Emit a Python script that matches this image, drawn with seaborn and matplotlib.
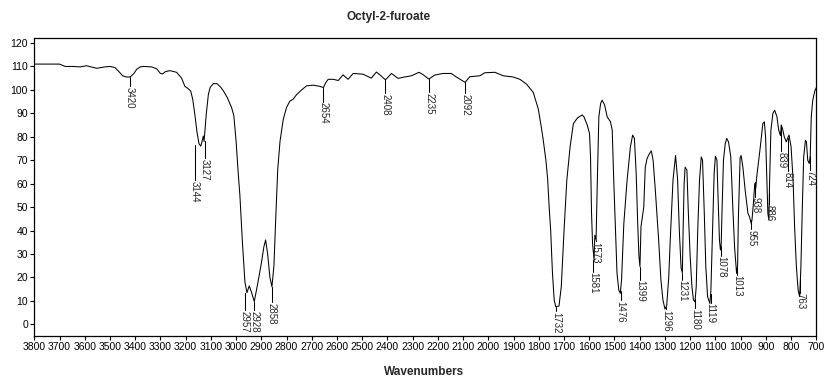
import numpy as np
import pandas as pd
import matplotlib
matplotlib.use("Agg")
from matplotlib import pyplot as plt
import seaborn as sns

# spectrum (wavenumber, %T)
wavenumber = [
    3800, 3700, 3678, 3650, 3619, 3593, 3553, 3520, 3500, 3480, 3462, 3450, 3435, 3420, 3405, 3394,
    3380, 3368, 3335, 3315, 3300, 3292, 3280, 3262, 3236, 3216, 3203, 3190, 3180, 3172, 3163, 3155,
    3147, 3140, 3135, 3130, 3127, 3124, 3118, 3110, 3103, 3090, 3075, 3060, 3050, 3035, 3018, 3009,
    3000, 2992, 2985, 2975, 2965, 2957, 2948, 2940, 2928, 2915, 2900, 2890, 2883, 2875, 2866, 2858,
    2850, 2843, 2835, 2826, 2813, 2800, 2787, 2774, 2760, 2741, 2721, 2694, 2668, 2654, 2645, 2635,
    2615, 2595, 2576, 2556, 2536, 2497, 2464, 2444, 2431, 2408, 2384, 2358, 2332, 2305, 2275, 2259,
    2236, 2213, 2180, 2147, 2127, 2092, 2074, 2034, 2014, 1974, 1941, 1902, 1875, 1849, 1822, 1802,
    1790, 1783, 1772, 1765, 1759, 1753, 1746, 1739, 1733, 1720, 1711, 1700, 1689, 1676, 1663, 1647,
    1628, 1621, 1608, 1599, 1595, 1591, 1587, 1581, 1578, 1573, 1568, 1562, 1555, 1549, 1539, 1529,
    1516, 1509, 1503, 1496, 1490, 1483, 1477, 1472, 1463, 1450, 1437, 1428, 1421, 1414, 1408, 1403,
    1399, 1395, 1384, 1378, 1371, 1361, 1354, 1347, 1338, 1325, 1316, 1308, 1300, 1293, 1285, 1279,
    1268, 1258, 1250, 1243, 1236, 1231, 1228, 1224, 1220, 1213, 1207, 1200, 1193, 1187, 1181, 1176,
    1170, 1163, 1156, 1151, 1144, 1138, 1131, 1122, 1118, 1111, 1105, 1100, 1094, 1088, 1084, 1080,
    1077, 1074, 1068, 1061, 1055, 1048, 1039, 1031, 1024, 1016, 1012, 1009, 1002, 998, 991, 982,
    971, 965, 958, 955, 949, 944, 940, 936, 922, 912, 906, 901, 896, 892, 888, 885,
    880, 872, 865, 856, 849, 842, 839, 834, 827, 819, 814, 808, 800, 792, 786, 779,
    772, 766, 761, 756, 750, 743, 739, 734, 728, 724, 720, 714, 706, 700,
]
transmittance = [
    111, 111, 110, 110, 109.8, 110.3, 109.2, 109.8, 110, 109.5, 107.5, 106, 105.5, 105.5, 107, 108.8,
    109.8, 110, 109.8, 109, 107, 106.8, 107.8, 108.2, 107.5, 105, 101.5, 100.5, 99.5, 96, 89, 82,
    77, 76, 78, 80.3, 78, 82, 90, 98, 101, 102.7, 102.6, 101, 99.5, 96.7, 92.5, 89,
    78, 65, 55, 35, 18, 13.5, 16.4, 14, 9.7, 17, 26, 33, 36, 30, 20, 16,
    25, 45, 66, 78, 87.5, 92.5, 95.2, 96, 98, 99.9, 101.7, 102, 101.5, 101, 103, 104.5,
    104.5, 104, 106.4, 104.5, 107, 106.7, 105, 107.6, 106.5, 104.3, 107, 104.9, 105.5, 106, 107.5, 106.5,
    104.6, 106.3, 107, 107, 105.5, 103.2, 105.6, 106, 107.3, 107.5, 106, 105.5, 104.5, 102.5, 98.9, 91.8,
    84, 79, 70, 62, 50, 40, 22, 10.4, 7.5, 7.8, 16, 40, 61.5, 75.7, 85.6, 88,
    89.3, 88.5, 85, 81.4, 71.4, 47.3, 34.5, 27.4, 38, 36, 61.5, 88.5, 94.2, 95.6, 93.5, 88.5,
    86.4, 82.8, 61.5, 40, 21.7, 14.6, 13.2, 18.9, 43, 61.5, 75.7, 80.7, 79.3, 64.3, 43, 28.8,
    24.6, 41.6, 50, 67, 70.7, 72.9, 74, 70, 57, 36, 18.9, 10.4, 6.5, 8, 20, 36,
    61.5, 72, 62, 40, 24, 22, 40, 60, 67, 65.8, 47, 28.8, 16, 10.4, 9.5, 16,
    40.2, 61.5, 71.4, 70, 47.3, 24.6, 11.8, 8.9, 14, 40.2, 64.3, 71.7, 70, 50, 36, 31.7,
    34, 47.3, 70, 77, 79.3, 77.8, 71.4, 50, 33, 21.7, 25, 45, 71, 72, 67, 57.2,
    47.3, 45.9, 43, 44.5, 52, 60, 58, 63, 75.7, 85.6, 86.4, 80, 61.5, 47.3, 44.5, 61.5,
    82.8, 90, 91.3, 88.5, 82.8, 80.5, 85, 83.5, 80, 77.8, 79.3, 80.7, 75.7, 61.5, 41.6, 24.6,
    14.6, 11.8, 24.6, 47.3, 71.4, 78.5, 77.8, 70, 68.6, 72, 88.5, 95.6, 99.5, 101,
]

peak_labels = [3420, 3144, 3127, 2957, 2928, 2858, 2654, 2408, 2235, 2092, 1732, 1581, 1573,
               1476, 1399, 1296, 1231, 1180, 1119, 1078, 1013, 955, 938, 886, 839, 814, 763, 724]
# where each marker is drawn (some are nudged sideways to keep labels apart)
label_pos = [3420, 3163, 3123, 2965, 2928, 2858, 2654, 2408, 2235, 2092, 1732, 1585, 1575,
             1476, 1399, 1296, 1233, 1180, 1119, 1078, 1013, 958, 943, 886, 839, 814, 763, 724]
# how far below the curve each label starts (in %T)
label_gap = [3.8, 15, 7, 7.5, 3.7, 6.7, 6, 5.7, 5.7, 4.5, 2, 5, 0.5,
             4, 5.6, 1, 3, 4, 3.5, 4, 3, 4, 6, 4.5, 11, 14, 6, 6]

df = pd.DataFrame({"wn": wavenumber, "T": transmittance})

sns.set_style("white")
plt.rcParams["font.family"] = ["Liberation Sans Narrow", "Liberation Sans", "DejaVu Sans"]

fig = plt.figure(figsize=(8.39, 3.88), dpi=100)
ax = fig.add_axes([34.3 / 839, 52 / 388, 782 / 839, 297.7 / 388])

sns.lineplot(data=df, x="wn", y="T", ax=ax, color="black", linewidth=0.75, sort=False)

xs = np.array(wavenumber)[::-1]
ys = np.array(transmittance)[::-1]
for lab, pos, gap in zip(peak_labels, label_pos, label_gap):
    y0 = np.interp(lab, xs, ys)
    ax.plot([pos, pos], [y0, y0 - gap], color="black", linewidth=0.75)
    ax.text(pos, y0 - gap - 0.3, str(lab), rotation=270, ha="center", va="top", fontsize=7)

ax.set_xlim(3800, 700)
ax.set_ylim(-5, 122)
ax.set_xticks(np.arange(3800, 699, -100))
ax.set_yticks(np.arange(0, 121, 10))
ax.tick_params(axis="both", direction="out", length=3, width=0.8, labelsize=7.5, pad=1.5,
               bottom=True, left=True, colors="black")
for s in ax.spines.values():
    s.set_color("black")
    s.set_linewidth(0.9)
ax.set_xlabel("")
ax.set_ylabel("")

fig.text(389 / 839, 1 - 17 / 388, "Octyl-2-furoate", ha="center", va="center",
         fontsize=8.5, fontweight="bold", family=["Liberation Sans", "DejaVu Sans"])
fig.text(424 / 839, 1 - 372 / 388, "Wavenumbers", ha="center", va="center",
         fontsize=8.5, fontweight="bold", family=["Liberation Sans", "DejaVu Sans"])

fig.savefig("out.png", dpi=100, facecolor="white")
